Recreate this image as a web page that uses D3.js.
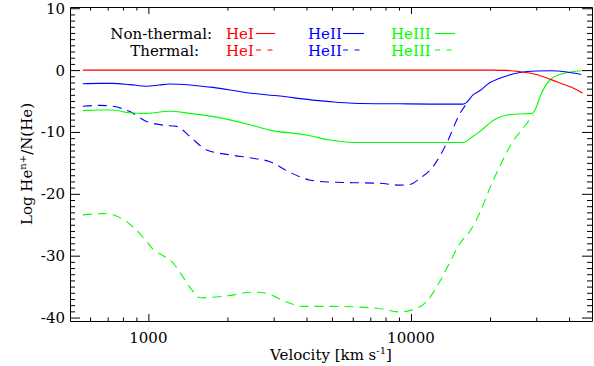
<!DOCTYPE html>
<html>
<head>
<meta charset="utf-8">
<script src="https://cdn.jsdelivr.net/npm/d3@7"></script>
<style>
  body { margin: 0; background: #fff; }
  text { font-family: "DejaVu Serif", serif; fill: #000; }
</style>
</head>
<body>
<div class="canvas"></div>
<script>
// data (velocity in km/s, log fraction)
const heINonThermalV = [563, 20000, 23000, 26000, 30000, 34000, 38000, 42000, 45000];
const heINonThermal = [0, 0, -0.05, -0.25, -0.7, -1.5, -2.3, -3.0, -3.7];

const heIINonThermalV = [563, 650, 730, 850, 985, 1100, 1207, 1440, 1760, 2370, 3170, 4230, 4910, 6010, 9000,
  12000, 15780, 16200, 17230, 18320, 20000, 21500, 23210, 26000, 30000, 34000, 39300, 44500];
const heIINonThermal = [-2.2, -2.15, -2.15, -2.35, -2.6, -2.4, -2.25, -2.4, -2.8, -3.65, -4.2, -4.85, -5.1, -5.35, -5.45,
  -5.5, -5.5, -5.3, -4.0, -3.3, -2.0, -1.4, -0.9, -0.4, -0.15, -0.1, -0.3, -0.7];

const heIIINonThermalV = [563, 650, 730, 850, 985, 1207, 1440, 1922, 2372, 2903, 4005, 4914, 6013, 9000, 15780,
  17230, 18320, 20600, 23210, 26000, 29000, 30000, 31000, 33870, 38000, 44500];
const heIIINonThermal = [-6.55, -6.45, -6.45, -6.9, -7.0, -6.65, -7.0, -7.8, -8.7, -9.7, -10.5, -11.3, -11.7, -11.7, -11.7,
  -10.7, -9.9, -8.1, -7.25, -7.1, -7.0, -6.0, -4.3, -1.6, -0.55, -0.1];

const heIIThermalV = [563, 650, 730, 850, 985, 1139, 1280, 1440, 1666, 2044, 2500, 2903, 3450, 4140, 4914, 6013,
  7620, 9078, 9915, 10820, 12130, 13680, 15370, 16300];
const heIIThermal = [-5.85, -5.7, -5.85, -6.7, -8.3, -8.9, -9.1, -10.75, -12.9, -13.7, -14.25, -14.8, -16.5, -17.8, -18.1, -18.2,
  -18.3, -18.6, -18.5, -17.5, -15.6, -11.8, -7.0, -5.4];

const heIIIThermalV = [563, 673, 746, 826, 902, 985, 1043, 1139, 1243, 1338, 1461, 1571, 1986, 2507, 2820, 3361, 3888,
  5058, 7403, 9078, 10060, 11480, 12900, 14080, 15370, 16780, 18320, 20000, 21830, 24470, 26480, 29170];
const heIIIThermal = [-23.4, -23.2, -23.5, -24.5, -25.9, -27.7, -29.0, -30.0, -31.2, -33.1, -35.5, -36.8, -36.5, -35.9, -36.1, -37.5, -38.2,
  -38.2, -38.5, -39.1, -38.8, -37.4, -34.1, -31.0, -28.0, -26.0, -23.0, -19.0, -15.5, -11.5, -9.6, -7.3];

// ticks
const xMajor = [1000, 10000];
const xMinor = [600, 700, 800, 900, 2000, 3000, 4000, 5000, 6000, 7000, 8000, 9000, 20000, 30000, 40000];
const yMajor = [10, 0, -10, -20, -30, -40];
const yMinor = d3.range(-40, 11, 1).filter((d) => d % 10 !== 0);

// margins and dimensions
const w = 594;
const h = 366;
const margin = { top: 7, right: 2, bottom: 44, left: 70 };
const graphWidth = w - margin.left - margin.right;
const graphHeight = h - margin.top - margin.bottom - 1;

const svg = d3.select(".canvas").append("svg").attr("width", w).attr("height", h);

const xScale = d3.scaleLog().domain([503, 48900]).range([margin.left, margin.left + graphWidth]);
const yScale = d3.scaleLinear().domain([-40.56, 10.2]).range([margin.top + graphHeight, margin.top]);

const x0 = margin.left, x1 = margin.left + graphWidth;
const y0 = margin.top, y1 = margin.top + graphHeight;

// curves
const line = d3
  .line()
  .x((d) => xScale(d[0]))
  .y((d) => yScale(d[1]))
  .curve(d3.curveMonotoneX);

const series = [
  { v: heIIIThermalV, y: heIIIThermal, color: "#00ff00", dash: "9,6" },
  { v: heIIThermalV, y: heIIThermal, color: "#0000ff", dash: "9,6" },
  { v: heIIINonThermalV, y: heIIINonThermal, color: "#00ff00", dash: null },
  { v: heIINonThermalV, y: heIINonThermal, color: "#0000ff", dash: null },
  { v: heINonThermalV, y: heINonThermal, color: "#ff0000", dash: null },
];

series.forEach((s) => {
  svg
    .append("path")
    .datum(s.v.map((v, i) => [v, s.y[i]]))
    .attr("fill", "none")
    .attr("stroke", s.color)
    .attr("stroke-width", 1.1)
    .attr("stroke-dasharray", s.dash)
    .attr("d", line);
});

// axes, ticks pointing inwards
function addAxis(axis, transform, values, size, keepDomain) {
  const g = svg
    .append("g")
    .attr("transform", transform)
    .call(axis.tickValues(values).tickSize(-size).tickSizeOuter(0).tickFormat(""));
  g.attr("color", "#000");
  if (!keepDomain) g.select(".domain").remove();
  return g;
}
addAxis(d3.axisBottom(xScale), `translate(0,${y1})`, xMajor, 7, true);
addAxis(d3.axisBottom(xScale), `translate(0,${y1})`, xMinor, 3.5, false);
addAxis(d3.axisTop(xScale), `translate(0,${y0})`, xMajor, 7, true);
addAxis(d3.axisTop(xScale), `translate(0,${y0})`, xMinor, 3.5, false);
addAxis(d3.axisLeft(yScale), `translate(${x0},0)`, yMajor, 10, true);
addAxis(d3.axisLeft(yScale), `translate(${x0},0)`, yMinor, 5, false);
addAxis(d3.axisRight(yScale), `translate(${x1},0)`, yMajor, 10, true);
addAxis(d3.axisRight(yScale), `translate(${x1},0)`, yMinor, 5, false);

// tick labels
svg
  .selectAll(".xlab")
  .data(xMajor)
  .enter()
  .append("text")
  .attr("x", (d) => xScale(d))
  .attr("y", 343)
  .attr("text-anchor", "middle")
  .attr("font-size", 15)
  .text((d) => d);

svg
  .selectAll(".ylab")
  .data(yMajor)
  .enter()
  .append("text")
  .attr("x", x0 - 5)
  .attr("y", (d) => yScale(d) + 5.5)
  .attr("text-anchor", "end")
  .attr("font-size", 15)
  .text((d) => d);

// axis titles
const xt = svg
  .append("text")
  .attr("x", (x0 + x1) / 2)
  .attr("y", 360)
  .attr("text-anchor", "middle")
  .attr("font-size", 15);
xt.append("tspan").text("Velocity [km s");
xt.append("tspan").attr("dy", -6).attr("font-size", 10).text("-1");
xt.append("tspan").attr("dy", 6).text("]");

const yt = svg
  .append("text")
  .attr("transform", `translate(32,${(y0 + y1) / 2}) rotate(-90)`)
  .attr("text-anchor", "middle")
  .attr("font-size", 15);
yt.append("tspan").text("Log He");
yt.append("tspan").attr("dy", -6).attr("font-size", 10).text("n+");
yt.append("tspan").attr("dy", 6).text("/N(He)");

// legend
const legend = svg.append("g").attr("id", "legend");
legend.append("text").attr("x", 212).attr("y", 39).attr("text-anchor", "end").attr("font-size", 15).text("Non-thermal:");
legend.append("text").attr("x", 199).attr("y", 55.5).attr("text-anchor", "end").attr("font-size", 15).text("Thermal:");

const legendItems = [
  { name: "HeI", color: "#ff0000", tx: 226, lx: [256, 275] },
  { name: "HeII", color: "#0000ff", tx: 308, lx: [343, 364] },
  { name: "HeIII", color: "#00ff00", tx: 391, lx: [435, 455] },
];
legendItems.forEach((d) => {
  [
    { y: 39, dash: null },
    { y: 55.5, dash: "5,6.5" },
  ].forEach((row) => {
    legend.append("text").attr("x", d.tx).attr("y", row.y).attr("font-size", 15).attr("fill", d.color).style("fill", d.color).text(d.name);
    legend
      .append("line")
      .attr("x1", d.lx[0])
      .attr("x2", d.lx[1])
      .attr("y1", row.y - 5.5)
      .attr("y2", row.y - 5.5)
      .attr("stroke", d.color)
      .attr("stroke-width", 1.1)
      .attr("stroke-dasharray", row.dash);
  });
});
</script>
</body>
</html>
